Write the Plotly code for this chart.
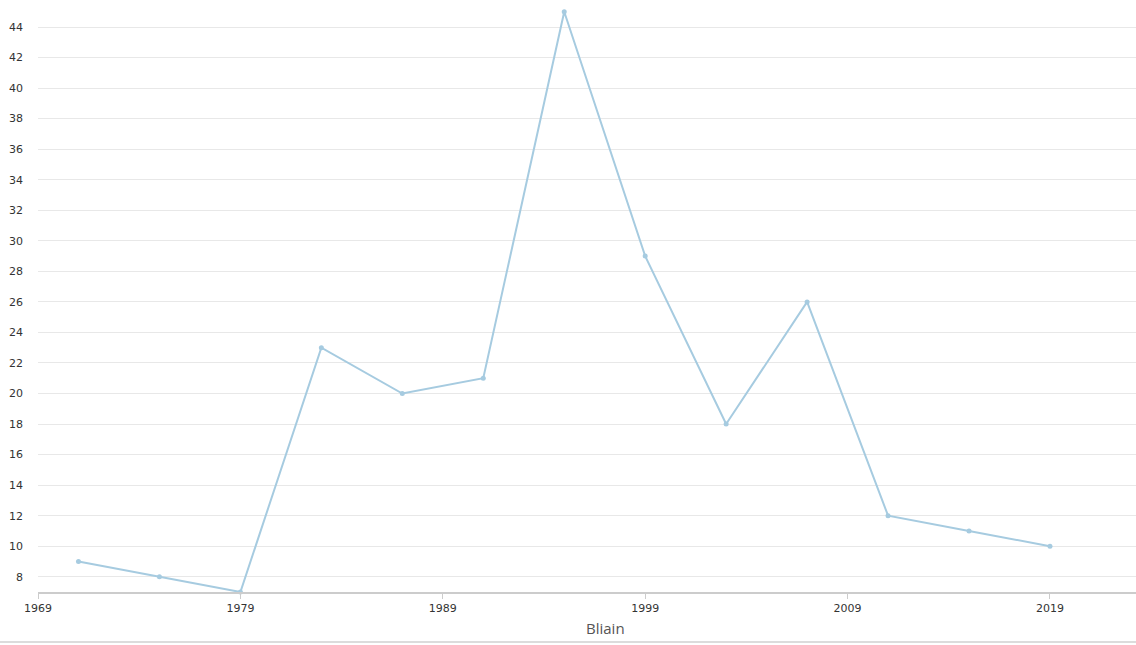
import plotly.graph_objects as go

years = [1971, 1975, 1979, 1983, 1987, 1991, 1995, 1999, 2003, 2007, 2011, 2015, 2019]
values = [9, 8, 7, 23, 20, 21, 45, 29, 18, 26, 12, 11, 10]
x_ticks = [1969, 1979, 1989, 1999, 2009, 2019]
y_ticks = list(range(8, 46, 2))
x_title = "Bliain"

fig = go.Figure()
fig.add_trace(go.Scatter(
    x=years, y=values, mode="lines+markers",
    line=dict(color="#a6cbe0", width=2),
    marker=dict(color="#a6cbe0", size=5),
    cliponaxis=False, showlegend=False,
))

fig.update_layout(
    width=1136, height=645,
    margin=dict(l=38, r=0, t=0, b=53),
    paper_bgcolor="white", plot_bgcolor="white",
    font=dict(family="DejaVu Sans", size=11, color="#333"),
    xaxis=dict(
        range=[1969, 2023.25], tickvals=x_ticks, ticks="outside", ticklen=5,
        tickcolor="#ccc", showline=True, linecolor="#ccc", linewidth=2,
        showgrid=False, zeroline=False,
    ),
    yaxis=dict(
        range=[7, 45.77], tickvals=y_ticks, showgrid=True, gridcolor="#e8e8e8",
        gridwidth=1, zeroline=False, showline=False, ticks="", ticklabelstandoff=14,
    ),
)
fig.add_annotation(
    text=x_title, xref="paper", yref="paper", x=(605 - 38) / 1098,
    y=-(640 - 592) / 592, xanchor="center", yanchor="bottom", showarrow=False,
    font=dict(family="Open Sans", size=15, color="#555"),
)
fig.add_shape(type="line", xref="paper", yref="paper", x0=-38 / 1098, x1=1.0,
              y0=-(642 - 592) / 592, y1=-(642 - 592) / 592,
              line=dict(color="#dcdcdc", width=2))
fig.write_html(
    "out.html",
    config={"displayModeBar": False},
    post_script="document.body.style.margin='0';document.body.style.overflow='hidden';",
)
